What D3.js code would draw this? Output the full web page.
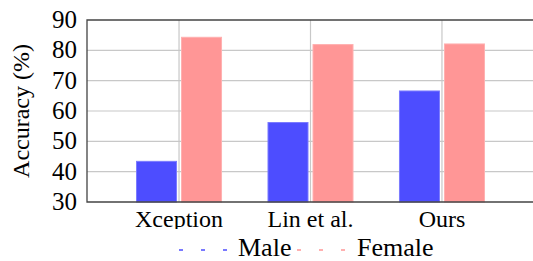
<!DOCTYPE html>
<html>
<head>
<meta charset="utf-8">
<script src="https://cdn.jsdelivr.net/npm/d3@7"></script>
<style>
  body { margin: 0; background: #fff; }
</style>
</head>
<body>
<svg id="chart" width="533" height="261" font-family="'Liberation Serif', Tinos, 'Times New Roman', Times, 'DejaVu Serif', serif"></svg>
<script>
// data
var methods = ["Xception", "Lin et al.", "Ours"];
var male = [43.4, 56.2, 66.6];
var female = [84.3, 81.9, 82.1];
var yTicks = [30, 40, 50, 60, 70, 80, 90];
var seriesNames = ["Male", "Female"];

(function() {
  var colors = { Male: "#4d4dff", Female: "#ff9696" };
  var strokes = { Male: "#7b7bff", Female: "#ffb0b0" };

  var svg = d3.select("#chart");
  var plotL = 87, plotR = 534, plotT = 20, plotB = 202;

  var x = d3.scalePoint().domain(methods).range([plotL, plotR]).padding(0.7);
  var y = d3.scaleLinear().domain([30, 90]).range([plotB, plotT]);
  var barW = 40, gap = 2.5;

  // horizontal grid
  svg.append("g").selectAll("line").data(yTicks.slice(1, -1)).enter().append("line")
    .attr("x1", plotL).attr("x2", plotR)
    .attr("y1", function(d) { return y(d); }).attr("y2", function(d) { return y(d); })
    .attr("stroke", "#c8c8c8").attr("stroke-width", 1.2);

  // vertical grid at category centers
  svg.append("g").selectAll("line").data(methods).enter().append("line")
    .attr("x1", function(d) { return x(d); }).attr("x2", function(d) { return x(d); })
    .attr("y1", plotT).attr("y2", plotB)
    .attr("stroke", "#c8c8c8").attr("stroke-width", 1.2);

  // bars
  [male, female].forEach(function(vals, si) {
    var name = seriesNames[si];
    svg.append("g").selectAll("rect").data(vals).enter().append("rect")
      .attr("x", function(d, i) { return si === 0 ? x(methods[i]) - gap - barW : x(methods[i]) + gap; })
      .attr("y", function(d) { return y(d); })
      .attr("width", barW)
      .attr("height", function(d) { return y(30) - y(d); })
      .attr("fill", colors[name])
      .attr("stroke", strokes[name]).attr("stroke-width", 1);
  });

  // frame
  svg.append("path")
    .attr("d", "M" + plotR + "," + plotT + "H" + plotL + "V" + plotB + "H" + plotR)
    .attr("fill", "none").attr("stroke", "#444").attr("stroke-width", 1.3);

  // y tick labels
  svg.append("g").selectAll("text").data(yTicks).enter().append("text")
    .attr("x", 77).attr("y", function(d) { return y(d) + 8; })
    .attr("text-anchor", "end").attr("font-size", 25)
    .text(function(d) { return d; });

  // y label
  svg.append("text")
    .attr("transform", "translate(29," + ((plotT + plotB) / 2) + ") rotate(-90)")
    .attr("text-anchor", "middle").attr("font-size", 24)
    .text("Accuracy (%)");

  // x labels
  svg.append("g").selectAll("text").data(methods).enter().append("text")
    .attr("x", function(d) { return x(d); }).attr("y", 227)
    .attr("text-anchor", "middle").attr("font-size", 24)
    .text(function(d) { return d; });

  // legend (white box covers label descenders)
  var lg = svg.append("g");
  lg.append("rect").attr("x", 170).attr("y", 229).attr("width", 280).attr("height", 32).attr("fill", "#fff");
  var legendItems = [
    { name: "Male", x0: 179, x1: 233, tx: 238 },
    { name: "Female", x0: 297, x1: 355, tx: 357 }
  ];
  legendItems.forEach(function(it) {
    lg.append("line")
      .attr("x1", it.x0).attr("x2", it.x1).attr("y1", 250).attr("y2", 250)
      .attr("stroke", colors[it.name]).attr("stroke-width", 1.5)
      .attr("stroke-dasharray", "4,18");
    lg.append("text").attr("x", it.tx).attr("y", 256).attr("font-size", 26).text(it.name);
  });
})();
</script>
</body>
</html>
